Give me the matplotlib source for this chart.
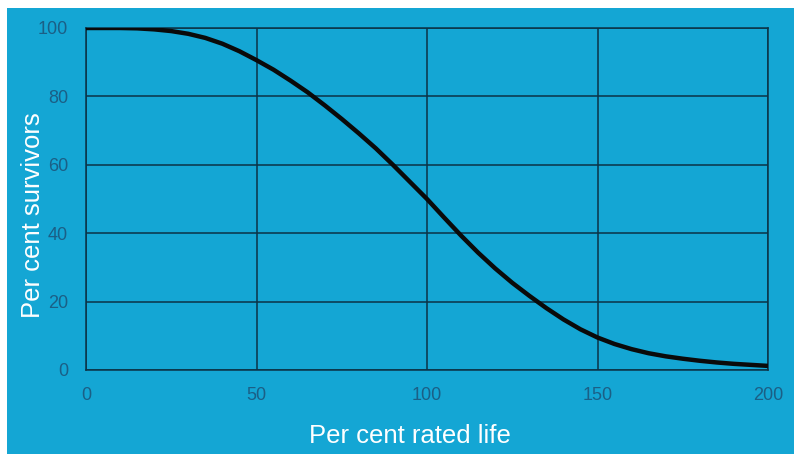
import matplotlib.pyplot as plt
from matplotlib.patches import Rectangle

# values
ratedLife = [0, 5, 10, 15, 20, 25, 30, 35, 40, 45, 50, 55, 60, 65, 70, 75, 80,
             85, 90, 95, 100, 105, 110, 115, 120, 125, 130, 135, 140, 145, 150,
             155, 160, 165, 170, 175, 180, 185, 190, 195, 200]
survivors = [100, 100, 100, 99.9, 99.6, 99.1, 98.3, 97.1, 95.4, 93.2, 90.6,
             87.8, 84.6, 81.2, 77.4, 73.4, 69.2, 64.8, 60, 55, 50, 44.6, 39.3,
             34.3, 29.7, 25.5, 21.7, 18.1, 14.8, 11.9, 9.5, 7.6, 6.1, 4.9, 4.0,
             3.3, 2.7, 2.2, 1.8, 1.5, 1.2]
xTicks = [0, 50, 100, 150, 200]
yTicks = [0, 20, 40, 60, 80, 100]

bgColor = '#14a6d4'
tickColor = '#1b5f86'
gridColor = '#0b3347'
W, H = 794, 454

plt.rcParams['font.family'] = ['Liberation Sans', 'DejaVu Sans']

fig = plt.figure(figsize=(W / 100, H / 100), dpi=100, facecolor='white')
fig.patches.append(Rectangle((7 / W, 0), 1, (H - 8) / H, transform=fig.transFigure,
                             facecolor=bgColor, edgecolor='none', zorder=-10))

ax = fig.add_axes([86 / W, (H - 370) / H, (768 - 86) / W, (370 - 28) / H])
ax.set_facecolor(bgColor)
ax.plot(ratedLife, survivors, color='#0a0a0a', linewidth=3.2,
        solid_capstyle='butt', solid_joinstyle='round', zorder=3)

ax.set_xlim(0, 200)
ax.set_ylim(0, 100)
ax.set_xticks(xTicks)
ax.set_yticks(yTicks)
ax.grid(True, color=gridColor, linewidth=1.1)
for s in ax.spines.values():
    s.set_color(gridColor)
    s.set_linewidth(1.1)
ax.tick_params(length=0, labelsize=13, labelcolor=tickColor)
ax.tick_params(axis='y', pad=13)
ax.tick_params(axis='x', pad=12)

fig.text(410 / W, 1 - 436 / H, 'Per cent rated life', color='white',
         fontsize=18.5, ha='center', va='center')
fig.text(33 / W, 1 - 215 / H, 'Per cent survivors', color='white',
         fontsize=18.5, ha='center', va='center', rotation=90)

fig.savefig('out.png', dpi=100, facecolor='white')
